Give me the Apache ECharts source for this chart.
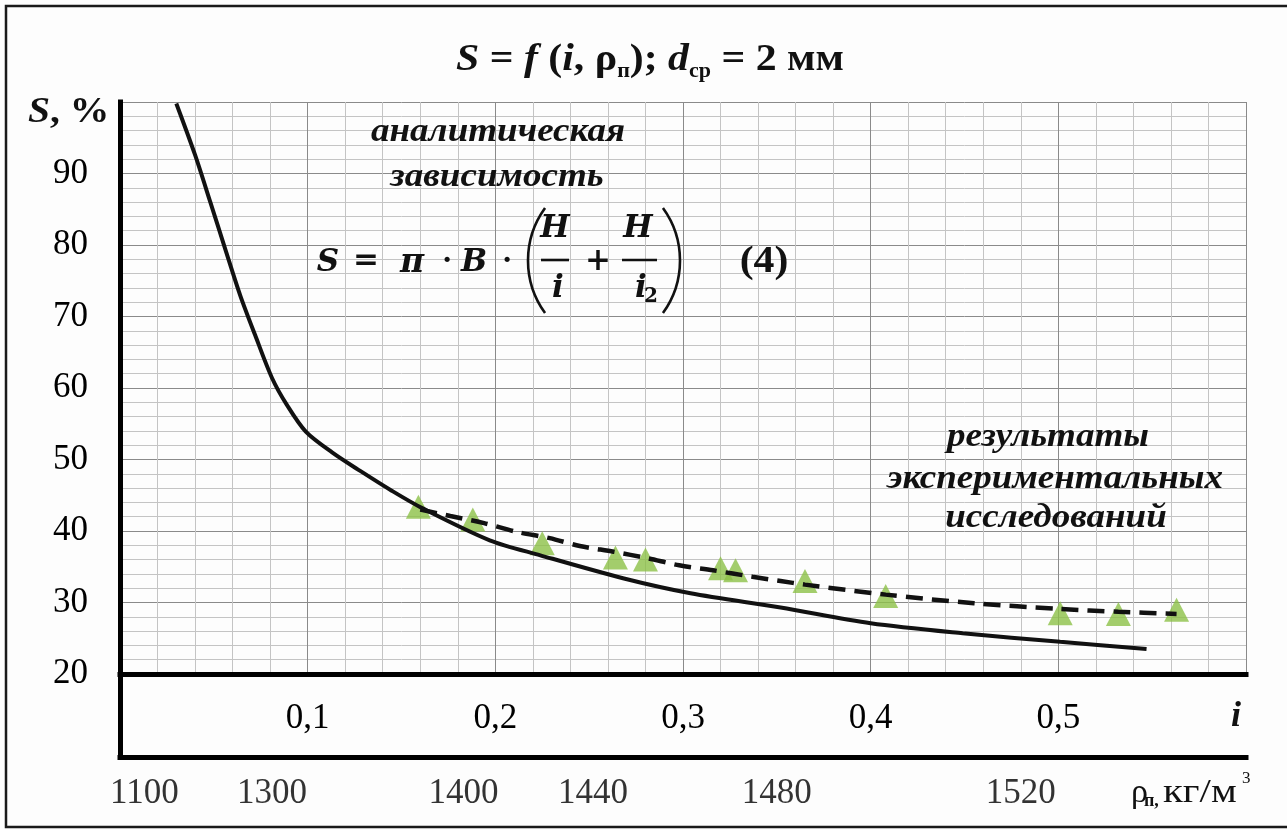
<!DOCTYPE html>
<html>
<head>
<meta charset="utf-8">
<script src="https://cdn.jsdelivr.net/npm/echarts@6/dist/echarts.min.js"></script>
<style>
  html, body { margin: 0; padding: 0; background: #fdfdfd; }
  #chart { width: 1287px; height: 830px; }
</style>
</head>
<body>
<div id="chart"></div>
<script>
// Analytic dependence S(i), formula (4)
const analyticI = [0.030, 0.040, 0.048, 0.056, 0.064, 0.072, 0.081, 0.089, 0.099, 0.113, 0.128, 0.145, 0.161, 0.197, 0.224, 0.268, 0.304, 0.352, 0.400, 0.449, 0.501, 0.547];
const analyticS = [99.8, 92.6, 86.1, 79.5, 73.0, 67.4, 61.4, 57.6, 53.9, 51.0, 48.4, 45.6, 43.2, 38.7, 36.6, 33.4, 31.3, 29.3, 27.1, 25.7, 24.5, 23.5];

// Trend through the experimental results
const trendI = [0.160, 0.176, 0.194, 0.211, 0.229, 0.245, 0.263, 0.281, 0.298, 0.316, 0.337, 0.352, 0.365, 0.408, 0.455, 0.501, 0.532, 0.563];
const trendS = [43.0, 42.1, 41.1, 39.9, 39.0, 37.9, 37.1, 36.2, 35.2, 34.5, 33.6, 33.0, 32.5, 31.1, 29.9, 29.1, 28.7, 28.4];

// Experimental points
const expI = [0.159, 0.188, 0.225, 0.264, 0.280, 0.320, 0.328, 0.365, 0.408, 0.501, 0.532, 0.563];
const expS = [43.4, 41.6, 38.3, 36.3, 36.0, 34.8, 34.5, 33.0, 30.9, 28.5, 28.4, 29.0];

// Tick labels
const iTicks = [0.1, 0.2, 0.3, 0.4, 0.5];
const sTicks = [20, 30, 40, 50, 60, 70, 80, 90];
// Density of the medium and the i value it corresponds to
const rhoTicks = [1100, 1300, 1400, 1440, 1480, 1520];
const rhoAtI = [0.013, 0.081, 0.183, 0.252, 0.350, 0.480];

const SERIF = "'Liberation Serif', 'Times New Roman', serif";
const MATH = "'DejaVu Serif', 'Liberation Serif', serif";
const INK = '#111';

const pairs = (xs, ys) => xs.map((x, k) => [x, ys[k]]);

function txt(x, y, text, font, align, sx) {
  return {
    type: 'text', x: x, y: y, silent: true, z: 50,
    scaleX: sx || 1,
    style: {
      text: text, font: font, fill: INK,
      align: align || 'center', verticalAlign: 'middle',
      textAlign: align || 'center', textVerticalAlign: 'middle'
    }
  };
}
function hline(x1, x2, y, w) {
  return { type: 'line', silent: true, z: 50,
    shape: { x1: x1, y1: y, x2: x2, y2: y },
    style: { stroke: INK, lineWidth: w } };
}
function paren(cx, cy, r, a0, a1) {
  return { type: 'arc', silent: true, z: 50,
    shape: { cx: cx, cy: cy, r: r, startAngle: a0, endAngle: a1, clockwise: true },
    style: { stroke: INK, lineWidth: 2.6, fill: null } };
}

const BI = (s, f) => 'italic bold ' + s + 'px ' + (f || SERIF);
const B = (s, f) => 'bold ' + s + 'px ' + (f || SERIF);
const R = (s) => s + 'px ' + SERIF;

const pa = 0.627;
const graphics = [
  // outer frame
  { type: 'polyline', silent: true, z: 40,
    shape: { points: [[1290, 6], [6, 6], [6, 827], [1290, 827]] },
    style: { stroke: '#1a1a1a', lineWidth: 2.5, fill: null } },

  // title
  { type: 'text', x: 650, y: 60, silent: true, z: 50, scaleX: 1.1,
    style: {
      text: '{i|S}{b| = }{i|f}{b| (}{i|i}{b|, ρ}{s|п}{b|); }{i|d}{s|ср}{b| = 2 мм}',
      align: 'center', verticalAlign: 'middle', textAlign: 'center', textVerticalAlign: 'middle',
      rich: {
        i: { font: BI(38), fill: INK, lineHeight: 44, verticalAlign: 'middle' },
        b: { font: B(38), fill: INK, lineHeight: 44, verticalAlign: 'middle' },
        s: { font: B(20), fill: INK, lineHeight: 22, verticalAlign: 'bottom' }
      }
    } },

  // y axis name
  { type: 'text', x: 28, y: 113, silent: true, z: 50, scaleX: 1.1,
    style: {
      text: '{i|S}{b|, %}',
      align: 'left', verticalAlign: 'middle', textAlign: 'left', textVerticalAlign: 'middle',
      rich: {
        i: { font: BI(36), fill: INK },
        b: { font: B(36), fill: INK }
      }
    } },

  // i axis name
  txt(1236, 717, 'i', BI(36)),

  // density axis name: ρп, кг/м3
  txt(1131, 793, 'ρ', R(34), 'left'),
  txt(1144, 801, 'п,', B(18), 'left'),
  txt(1163, 793, 'кг/м', R(34), 'left', 1.2),
  txt(1242, 779, '3', R(17), 'left'),

  // annotation: analytic dependence
  txt(498, 132, 'аналитическая', BI(34), 'center', 1.09),
  txt(497, 177, 'зависимость', BI(34), 'center', 1.09),

  // formula (4)
  txt(328, 263, 'S', BI(31, MATH)),
  txt(366, 262, '=', B(31, MATH)),
  txt(412, 263, 'π', BI(33, MATH)),
  txt(447, 262, '·', B(28, MATH)),
  txt(474, 263, 'B', BI(31, MATH)),
  txt(507, 262, '·', B(28, MATH)),
  paren(617.6, 260.5, 89.6, Math.PI - pa, Math.PI + pa),
  txt(555, 229, 'H', BI(31, MATH)),
  hline(541, 569, 260, 2.6),
  txt(558, 289, 'i', BI(31, MATH)),
  txt(598, 262, '+', B(31, MATH)),
  txt(638, 229, 'H', BI(31, MATH)),
  hline(622, 657, 260, 2.6),
  txt(641, 289, 'i', BI(31, MATH)),
  txt(651, 297, '2', B(20, MATH)),
  paren(590.4, 260.5, 89.6, -pa, pa),
  txt(764, 262, '(4)', B(38), 'center', 1.1),

  // annotation: experimental results
  txt(1048, 437, 'результаты', BI(34), 'center', 1.09),
  txt(1055, 479, 'экспериментальных', BI(34), 'center', 1.09),
  txt(1056, 518, 'исследований', BI(34), 'center', 1.09)
];

const chart = echarts.init(document.getElementById('chart'), null, { renderer: 'canvas' });

chart.setOption({
  backgroundColor: '#fdfdfd',
  animation: false,
  grid: [
    { left: 120, top: 102, width: 1126, height: 572 },
    { left: 120, top: 674, width: 1126, height: 83 }
  ],
  xAxis: [
    {
      gridIndex: 0, type: 'value', min: 0, max: 0.6, interval: 0.1,
      axisLine: { show: true, onZero: false, lineStyle: { color: '#000', width: 5, cap: 'square' } },
      axisTick: { show: false },
      axisLabel: {
        margin: 27, fontFamily: SERIF, fontSize: 35, color: '#000',
        formatter: (v) => {
          const hit = iTicks.find(t => Math.abs(t - v) < 1e-6);
          return hit === undefined ? '' : hit.toFixed(1).replace('.', ',');
        }
      },
      splitLine: { show: true, lineStyle: { color: '#8a8a8a', width: 1 } },
      minorTick: { show: false, splitNumber: 5 },
      minorSplitLine: { show: true, lineStyle: { color: '#c4c4c4', width: 1 } }
    },
    {
      gridIndex: 1, type: 'value', min: 0, max: 0.6,
      axisLine: { show: true, onZero: false, lineStyle: { color: '#000', width: 5, cap: 'square' } },
      axisTick: { show: false },
      axisLabel: { show: false },
      splitLine: { show: false }
    }
  ],
  yAxis: [
    {
      gridIndex: 0, type: 'value', min: 20, max: 100, interval: 10,
      axisLine: { show: true, onZero: false, lineStyle: { color: '#000', width: 5, cap: 'square' } },
      axisTick: { show: false },
      axisLabel: {
        margin: 32, fontFamily: SERIF, fontSize: 35, color: '#000',
        formatter: (v) => (sTicks.indexOf(Math.round(v)) >= 0 ? String(Math.round(v)) : '')
      },
      splitLine: { show: true, lineStyle: { color: '#8a8a8a', width: 1 } },
      minorTick: { show: false, splitNumber: 5 },
      minorSplitLine: { show: true, lineStyle: { color: '#c4c4c4', width: 1 } }
    },
    {
      gridIndex: 1, type: 'value', min: 0, max: 1,
      axisLine: { show: true, onZero: false, lineStyle: { color: '#000', width: 5, cap: 'square' } },
      axisTick: { show: false },
      axisLabel: { show: false },
      splitLine: { show: false }
    }
  ],
  graphic: graphics,
  series: [
    {
      name: 'эксперимент', type: 'scatter', xAxisIndex: 0, yAxisIndex: 0,
      data: pairs(expI, expS), symbol: 'triangle', symbolSize: [25, 24],
      itemStyle: { color: '#8cc047' }, z: 2, silent: true
    },
    {
      name: 'тренд', type: 'line', xAxisIndex: 0, yAxisIndex: 0,
      data: pairs(trendI, trendS), showSymbol: false, smooth: 0.3,
      lineStyle: { color: INK, width: 4.5, type: [17, 9] }, z: 3, silent: true
    },
    {
      name: 'аналитическая', type: 'line', xAxisIndex: 0, yAxisIndex: 0,
      data: pairs(analyticI, analyticS), showSymbol: false, smooth: 0.3,
      lineStyle: { color: INK, width: 4 }, z: 4, silent: true
    },
    {
      name: 'ρп', type: 'scatter', xAxisIndex: 1, yAxisIndex: 1, clip: false,
      data: rhoAtI.map((p, k) => [p, 0, rhoTicks[k]]),
      symbolSize: 0, silent: true,
      label: {
        show: true, position: 'bottom', distance: 19,
        fontFamily: SERIF, fontSize: 35, color: '#000',
        formatter: (p) => String(p.value[2])
      }
    }
  ]
});
</script>
</body>
</html>
